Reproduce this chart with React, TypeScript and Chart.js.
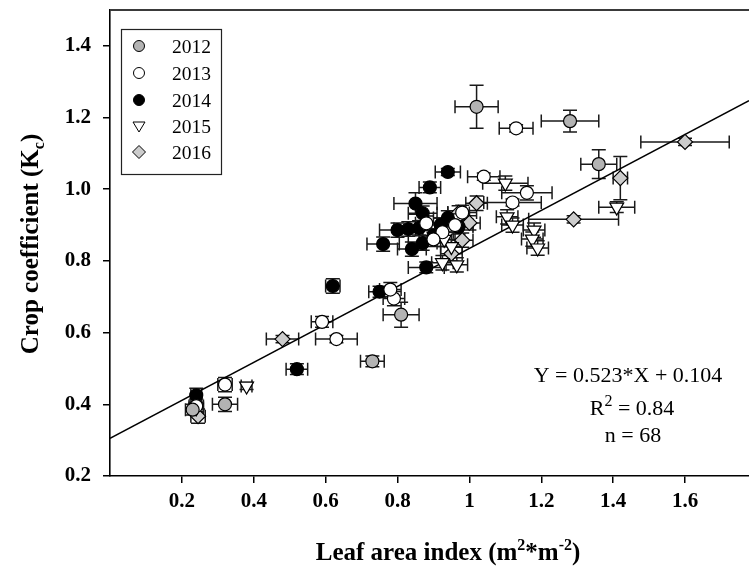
import React, { useEffect, useRef } from "react";
import { Chart, registerables } from "chart.js";
Chart.register(...registerables);

// ---------- data ----------
const lai2012 = [1.02, 1.28, 1.36, 0.81, 0.73, 0.32, 0.23];
const kc2012 = [1.23, 1.19, 1.07, 0.65, 0.52, 0.40, 0.385];
const laiErr2012 = [0.06, 0.08, 0.05, 0.05, 0.033, 0.035, 0.02];
const kcErr2012 = [0.06, 0.03, 0.04, 0.035, 0.015, 0.02, 0.015];

const lai2013 = [1.13, 1.04, 1.16, 1.12, 0.79, 0.59, 0.63, 0.32, 0.24, 0.925, 0.90, 0.96, 0.78, 0.88, 0.98];
const kc2013 = [1.17, 1.035, 0.99, 0.963, 0.695, 0.63, 0.582, 0.455, 0.395, 0.88, 0.86, 0.90, 0.72, 0.905, 0.935];
const laiErr2013 = [0.047, 0.045, 0.07, 0.08, 0.03, 0.03, 0.058, 0.02, 0.02, 0.03, 0.04, 0.05, 0.03, 0.03, 0.04];
const kcErr2013 = [0.01, 0.01, 0.02, 0.01, 0.02, 0.015, 0.01, 0.02, 0.02, 0.02, 0.02, 0.02, 0.02, 0.02, 0.02];

const lai2014 = [0.94, 0.89, 0.85, 0.87, 0.94, 0.80, 0.83, 0.86, 0.87, 0.84, 0.76, 0.88, 0.97, 0.62, 0.75, 0.52, 0.24, 0.90, 0.92];
const kc2014 = [1.048, 1.005, 0.96, 0.933, 0.92, 0.886, 0.889, 0.892, 0.85, 0.833, 0.847, 0.782, 0.895, 0.73, 0.714, 0.498, 0.425, 0.87, 0.90];
const laiErr2014 = [0.035, 0.03, 0.06, 0.04, 0.04, 0.05, 0.04, 0.03, 0.04, 0.04, 0.045, 0.05, 0.04, 0.02, 0.03, 0.03, 0.015, 0.03, 0.03];
const kcErr2014 = [0.01, 0.015, 0.03, 0.02, 0.02, 0.02, 0.02, 0.02, 0.02, 0.02, 0.02, 0.015, 0.02, 0.02, 0.015, 0.015, 0.02, 0.02, 0.02];

const lai2015 = [1.10, 1.41, 1.105, 1.12, 1.18, 1.175, 1.19, 0.95, 0.925, 0.965, 0.38, 0.24, 0.97, 0.93];
const kc2015 = [1.017, 0.95, 0.923, 0.90, 0.886, 0.861, 0.836, 0.84, 0.795, 0.789, 0.451, 0.39, 0.92, 0.86];
const laiErr2015 = [0.063, 0.05, 0.03, 0.03, 0.03, 0.03, 0.03, 0.03, 0.03, 0.03, 0.015, 0.02, 0.03, 0.03];
const kcErr2015 = [0.02, 0.015, 0.02, 0.02, 0.02, 0.02, 0.02, 0.02, 0.02, 0.02, 0.01, 0.01, 0.02, 0.02];

const lai2016 = [1.60, 1.42, 1.29, 1.02, 0.97, 1.00, 0.98, 0.48, 0.245, 0.95];
const kc2016 = [1.132, 1.031, 0.916, 0.961, 0.934, 0.906, 0.858, 0.582, 0.367, 0.82];
const laiErr2016 = [0.123, 0.02, 0.125, 0.03, 0.03, 0.03, 0.03, 0.045, 0.02, 0.03];
const kcErr2016 = [0.01, 0.06, 0.01, 0.02, 0.02, 0.02, 0.02, 0.01, 0.02, 0.02];

const years = ["2012", "2013", "2014", "2015", "2016"];
const fitX = [0, 1.778];
const fitY = [0.305, 1.247];
const xTickValues = [0.2, 0.4, 0.6, 0.8, 1, 1.2, 1.4, 1.6];
const yTickValues = [0.2, 0.4, 0.6, 0.8, 1.0, 1.2, 1.4];
const equationLines = ["Y = 0.523*X + 0.104", "R", "n = 68"];

// ---------- styling ----------
const SERIF = "'Liberation Serif', 'Times New Roman', serif";
const styles = [
  { fill: "#b3b3b3", shape: "circle", r: 6.5, rot: 0 },
  { fill: "#ffffff", shape: "circle", r: 6.5, rot: 0 },
  { fill: "#000000", shape: "circle", r: 6.5, rot: 0 },
  { fill: "#ffffff", shape: "triangle", r: 8, rot: 180 },
  { fill: "#cccccc", shape: "rectRot", r: 7.5, rot: 0 },
];

const series = [
  { x: lai2012, y: kc2012, ex: laiErr2012, ey: kcErr2012 },
  { x: lai2013, y: kc2013, ex: laiErr2013, ey: kcErr2013 },
  { x: lai2014, y: kc2014, ex: laiErr2014, ey: kcErr2014 },
  { x: lai2015, y: kc2015, ex: laiErr2015, ey: kcErr2015 },
  { x: lai2016, y: kc2016, ex: laiErr2016, ey: kcErr2016 },
];

function drawPieces(ctx: CanvasRenderingContext2D, pieces: any[], cx: number, baseline: number, center = true) {
  let total = 0;
  pieces.forEach((p) => {
    ctx.font = p.font;
    total += ctx.measureText(p.t).width;
  });
  let xx = center ? cx - total / 2 : cx;
  pieces.forEach((p) => {
    ctx.font = p.font;
    ctx.fillText(p.t, xx, baseline + (p.dy || 0));
    xx += ctx.measureText(p.t).width;
  });
}

const decorPlugin = {
  id: "decor",
  beforeDatasetsDraw(chart: any) {
    const { ctx } = chart;
    const xs = chart.scales.x;
    const ys = chart.scales.y;
    ctx.save();
    ctx.strokeStyle = "#1a1a1a";
    ctx.lineWidth = 1.5;
    series.forEach((s) => {
      s.x.forEach((xv: number, i: number) => {
        const yv = s.y[i];
        const px = xs.getPixelForValue(xv);
        const py = ys.getPixelForValue(yv);
        const x0 = xs.getPixelForValue(xv - s.ex[i]);
        const x1 = xs.getPixelForValue(xv + s.ex[i]);
        const y0 = ys.getPixelForValue(yv - s.ey[i]);
        const y1 = ys.getPixelForValue(yv + s.ey[i]);
        ctx.beginPath();
        ctx.moveTo(x0, py); ctx.lineTo(x1, py);
        ctx.moveTo(x0, py - 6.5); ctx.lineTo(x0, py + 6.5);
        ctx.moveTo(x1, py - 6.5); ctx.lineTo(x1, py + 6.5);
        ctx.moveTo(px, y0); ctx.lineTo(px, y1);
        ctx.moveTo(px - 7, y0); ctx.lineTo(px + 7, y0);
        ctx.moveTo(px - 7, y1); ctx.lineTo(px + 7, y1);
        ctx.stroke();
      });
    });
    ctx.restore();
  },
  afterDraw(chart: any) {
    const { ctx, chartArea } = chart;
    ctx.save();
    // top frame line
    ctx.strokeStyle = "#3a3a3a";
    ctx.lineWidth = 2;
    ctx.beginPath();
    ctx.moveTo(chartArea.left, chartArea.top);
    ctx.lineTo(chartArea.right, chartArea.top);
    ctx.stroke();

    // legend box
    ctx.fillStyle = "#ffffff";
    ctx.fillRect(121, 29, 100, 145);
    ctx.strokeStyle = "#222";
    ctx.lineWidth = 1.2;
    ctx.strokeRect(121.5, 29.5, 100, 145);
    const rows = [46, 73, 100, 126, 152];
    years.forEach((yr, i) => {
      const st = styles[i];
      ctx.fillStyle = st.fill;
      ctx.strokeStyle = "#000";
      ctx.lineWidth = 1;
      const cx = 139, cy = rows[i];
      ctx.beginPath();
      if (st.shape === "circle") {
        ctx.arc(cx, cy, 5.5, 0, Math.PI * 2);
      } else if (st.shape === "triangle") {
        ctx.moveTo(cx - 6, cy - 4);
        ctx.lineTo(cx + 6, cy - 4);
        ctx.lineTo(cx, cy + 6);
        ctx.closePath();
      } else {
        ctx.moveTo(cx, cy - 6.5);
        ctx.lineTo(cx + 6.5, cy);
        ctx.lineTo(cx, cy + 6.5);
        ctx.lineTo(cx - 6.5, cy);
        ctx.closePath();
      }
      ctx.fill();
      ctx.stroke();
      ctx.fillStyle = "#000";
      ctx.font = `19.5px ${SERIF}`;
      ctx.textAlign = "left";
      ctx.textBaseline = "alphabetic";
      ctx.fillText(yr, 172, cy + 7);
    });

    // regression annotation
    ctx.fillStyle = "#000";
    ctx.textAlign = "left";
    ctx.textBaseline = "alphabetic";
    const f = `22px ${SERIF}`;
    drawPieces(ctx, [{ t: equationLines[0], font: f }], 628, 382);
    drawPieces(ctx, [
      { t: equationLines[1], font: f },
      { t: "2", font: `16px ${SERIF}`, dy: -9 },
      { t: " = 0.84", font: f },
    ], 632, 415);
    drawPieces(ctx, [{ t: equationLines[2], font: f }], 633, 442);

    // x axis title
    const bf = `bold 25px ${SERIF}`;
    const bs = `bold 16px ${SERIF}`;
    drawPieces(ctx, [
      { t: "Leaf area index (m", font: bf },
      { t: "2", font: bs, dy: -10 },
      { t: "*m", font: bf },
      { t: "-2", font: bs, dy: -10 },
      { t: ")", font: bf },
    ], 448, 560);

    // y axis title (rotated)
    ctx.translate(38, 244);
    ctx.rotate(-Math.PI / 2);
    drawPieces(ctx, [
      { t: "Crop coefficient (K", font: bf },
      { t: "c", font: bs, dy: 6 },
      { t: ")", font: bf },
    ], 0, 0);
    ctx.restore();
  },
};

export default function App() {
  const ref = useRef<HTMLCanvasElement | null>(null);
  useEffect(() => {
    if (!ref.current) return;
    const datasets: any[] = series.map((s, i) => ({
      type: "scatter",
      label: years[i],
      data: s.x.map((v, j) => ({ x: v, y: s.y[j] })),
      pointStyle: styles[i].shape,
      pointRadius: styles[i].r,
      rotation: styles[i].rot,
      backgroundColor: styles[i].fill,
      borderColor: "#000",
      borderWidth: 1.2,
    }));
    datasets.push({
      type: "line",
      label: "fit",
      data: fitX.map((v, j) => ({ x: v, y: fitY[j] })),
      borderColor: "#000",
      borderWidth: 1.6,
      pointRadius: 0,
      fill: false,
    });
    const tickFont = { family: SERIF, size: 21, weight: "bold" as const };
    const chart = new Chart(ref.current, {
      type: "scatter",
      data: { datasets },
      options: {
        responsive: false,
        animation: false,
        devicePixelRatio: 1,
        layout: { autoPadding: false, padding: { top: 10, left: 0, right: 0, bottom: 0 } },
        plugins: { legend: { display: false }, tooltip: { enabled: false } },
        scales: {
          x: {
            type: "linear",
            min: 0,
            max: 1.778,
            afterBuildTicks: (s: any) => { s.ticks = xTickValues.map((v) => ({ value: v })); },
            afterFit: (s: any) => { s.height = 94; s.paddingLeft = 0; s.paddingRight = 0; },
            ticks: {
              font: tickFont,
              color: "#000",
              padding: 6,
              maxRotation: 0,
              callback: (v: any) => (Number(v) === 1 ? "1" : Number(v).toFixed(1)),
            },
            grid: { display: true, drawOnChartArea: false, drawTicks: true, tickLength: 7, color: "#000", lineWidth: 1.5 },
            border: { display: true, color: "#000", width: 1.6 },
          },
          y: {
            type: "linear",
            min: 0.2,
            max: 1.5,
            afterBuildTicks: (s: any) => { s.ticks = yTickValues.map((v) => ({ value: v })); },
            afterFit: (s: any) => { s.width = 110; s.paddingTop = 0; s.paddingBottom = 0; },
            ticks: {
              font: tickFont,
              color: "#000",
              padding: 12,
              callback: (v: any) => Number(v).toFixed(1),
            },
            grid: { display: true, drawOnChartArea: false, drawTicks: true, tickLength: 7, color: "#000", lineWidth: 1.5 },
            border: { display: true, color: "#000", width: 1.6 },
          },
        },
      },
      plugins: [decorPlugin],
    });
    return () => chart.destroy();
  }, []);
  return (
    <div style={{ position: "fixed", left: 0, top: 0, width: 749, height: 570, background: "#fff" }}>
      <canvas ref={ref} width={749} height={570} style={{ display: "block" }} />
    </div>
  );
}
